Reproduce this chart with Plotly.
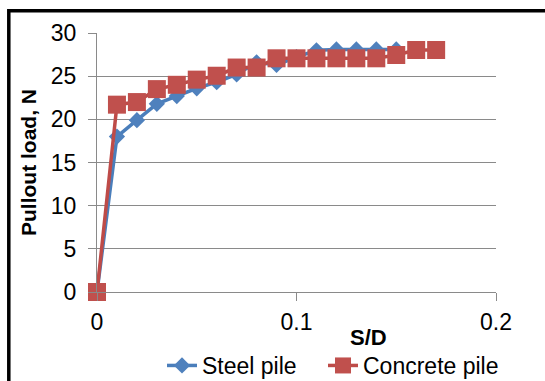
import plotly.graph_objects as go

# Data
sd_steel = [0, 0.01, 0.02, 0.03, 0.04, 0.05, 0.06, 0.07, 0.08, 0.09, 0.10, 0.11, 0.12, 0.13, 0.14, 0.15]
load_steel = [0, 18.0, 19.9, 21.8, 22.7, 23.6, 24.3, 25.2, 26.6, 26.3, 27.2, 28.0, 28.1, 28.1, 28.1, 28.1]

sd_concrete = [0, 0.01, 0.02, 0.03, 0.04, 0.05, 0.06, 0.07, 0.08, 0.09, 0.10, 0.11, 0.12, 0.13, 0.14, 0.15, 0.16, 0.17]
load_concrete = [0, 21.7, 22.0, 23.5, 24.0, 24.6, 25.05, 26.0, 26.0, 27.07, 27.07, 27.07, 27.07, 27.07, 27.07, 27.45, 28.03, 28.03]

x_ticks = [0, 0.1, 0.2]
x_tick_labels = ["0", "0.1", "0.2"]
y_ticks = [0, 5, 10, 15, 20, 25, 30]

FONT = "Liberation Sans, Arial, sans-serif"
GRID = "#8a8a8a"

fig = go.Figure()
fig.add_trace(go.Scatter(
    x=sd_steel, y=load_steel, name="Steel pile", mode="lines+markers",
    line=dict(color="#4A7EBB", width=3.5),
    marker=dict(symbol="diamond", size=12.5, color="#4F81BD", line=dict(width=0)),
    cliponaxis=False, legend="legend",
))
fig.add_trace(go.Scatter(
    x=sd_concrete, y=load_concrete, name="Concrete pile", mode="lines+markers",
    line=dict(color="#BE4B48", width=3.5),
    marker=dict(symbol="square", size=18, color="#C0504D", line=dict(width=0)),
    cliponaxis=False, legend="legend2",
))

L, R, T, B = 97, 49, 33, 89
W, H = 545, 381
pw = W - L - R
ph = H - T - B

def px_to_paper_x(px):
    return (px - L) / pw

def px_to_paper_y(py):
    return (H - B - py) / ph

legend_common = dict(
    orientation="h", xanchor="left",
    y=px_to_paper_y(344), yanchor="top",
    font=dict(family=FONT, size=23, color="#000000"),
    bgcolor="rgba(0,0,0,0)", itemwidth=30,
)

fig.update_layout(
    width=W, height=H,
    margin=dict(l=L, r=R, t=T, b=B, autoexpand=False),
    paper_bgcolor="white", plot_bgcolor="white",
    font=dict(family=FONT, size=23, color="#000000"),
    showlegend=True,
    legend=dict(x=px_to_paper_x(162), **legend_common),
    legend2=dict(x=px_to_paper_x(323), **legend_common),
    xaxis=dict(
        range=[0, 0.2], tickvals=x_ticks, ticktext=x_tick_labels,
        showgrid=False, zeroline=False, automargin=False,
        showline=True, linecolor=GRID, linewidth=1.3,
        ticks="outside", ticklen=8, tickcolor=GRID, tickwidth=1.3,
        ticklabelstandoff=1,
        tickfont=dict(family=FONT, size=23, color="#000000"),
    ),
    yaxis=dict(
        range=[0, 30], tickvals=y_ticks, automargin=False,
        showgrid=True, gridcolor=GRID, gridwidth=1.3, zeroline=False,
        showline=True, linecolor=GRID, linewidth=1.3,
        ticks="outside", ticklen=8, tickcolor=GRID, tickwidth=1.3,
        ticklabelstandoff=7,
        tickfont=dict(family=FONT, size=23, color="#000000"),
    ),
    annotations=[
        dict(text="<b>S/D</b>", xref="paper", yref="paper",
             x=px_to_paper_x(368), y=px_to_paper_y(337),
             xanchor="center", yanchor="middle", showarrow=False,
             font=dict(family=FONT, size=22, color="#000000")),
        dict(text="<b>Pullout load, N</b>", xref="paper", yref="paper",
             x=px_to_paper_x(28.5), y=0.5, textangle=-90,
             xanchor="center", yanchor="middle", showarrow=False,
             font=dict(family=FONT, size=21, color="#000000")),
    ],
    shapes=[
        dict(type="rect", xref="paper", yref="paper",
             x0=px_to_paper_x(8.8), x1=px_to_paper_x(600),
             y0=px_to_paper_y(420), y1=px_to_paper_y(10.8),
             line=dict(color="#000000", width=3.5), fillcolor="rgba(0,0,0,0)",
             layer="above"),
    ],
)

fig.write_html("out.html")
